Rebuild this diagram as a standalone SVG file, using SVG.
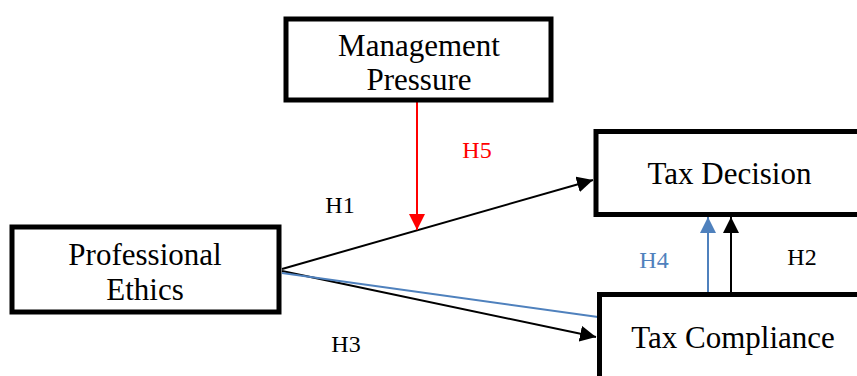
<svg xmlns="http://www.w3.org/2000/svg" width="857" height="376" viewBox="0 0 857 376">
<defs>
<style>
.box{fill:#fff;stroke:#000;stroke-width:5}
.t{font-family:"Liberation Serif","Times New Roman",serif;font-size:31px;fill:#000;text-anchor:middle}
.h{font-family:"Liberation Serif","Times New Roman",serif;font-size:24px;text-anchor:middle}
.k{stroke:#000;stroke-width:2;fill:none}
.b{stroke:#4F81BD;stroke-width:2;fill:none}
.r{stroke:#FF0000;stroke-width:2;fill:none}
</style>
<marker id="ak" markerUnits="userSpaceOnUse" markerWidth="18" markerHeight="16" refX="16" refY="8" orient="auto"><path d="M0,0 L16,8 L0,16 z" fill="#000"/></marker>
<marker id="ab" markerUnits="userSpaceOnUse" markerWidth="18" markerHeight="16" refX="16" refY="8" orient="auto"><path d="M0,0 L16,8 L0,16 z" fill="#4F81BD"/></marker>
<marker id="ar" markerUnits="userSpaceOnUse" markerWidth="18" markerHeight="16" refX="16" refY="8" orient="auto"><path d="M0,0 L16,8 L0,16 z" fill="#FF0000"/></marker>
</defs>
<rect width="857" height="376" fill="#fff"/>
<g id="connectors">
<line class="k" x1="282" y1="269" x2="593" y2="180" marker-end="url(#ak)"/>
<line class="k" x1="282" y1="271" x2="596" y2="337" marker-end="url(#ak)"/>
<line class="b" x1="282" y1="273" x2="598" y2="317"/>
<line class="r" x1="417" y1="101" x2="417" y2="230" marker-end="url(#ar)"/>
<line class="b" x1="708" y1="294" x2="708" y2="217" marker-end="url(#ab)"/>
<line class="k" x1="731" y1="294" x2="731" y2="217" marker-end="url(#ak)"/>
<text class="h" x="340" y="213" fill="#000">H1</text>
<text class="h" x="346" y="352" fill="#000">H3</text>
<text class="h" x="477" y="158" fill="#FF0000">H5</text>
<text class="h" x="654" y="268" fill="#4F81BD">H4</text>
<text class="h" x="802" y="265" fill="#000">H2</text>
</g>
<g id="management-pressure">
<rect class="box" x="286" y="19" width="265" height="81"/>
<text class="t" x="419" y="56">Management</text>
<text class="t" x="419" y="90">Pressure</text>
</g>
<g id="tax-decision">
<rect class="box" x="596" y="131.5" width="300" height="83"/>
<text class="t" x="729.5" y="184">Tax Decision</text>
</g>
<g id="professional-ethics">
<rect class="box" x="12" y="227" width="267" height="85"/>
<text class="t" x="145" y="265">Professional</text>
<text class="t" x="145" y="300">Ethics</text>
</g>
<g id="tax-compliance">
<rect class="box" x="599.5" y="294.5" width="300" height="120"/>
<text class="t" x="733" y="348">Tax Compliance</text>
</g>
</svg>
